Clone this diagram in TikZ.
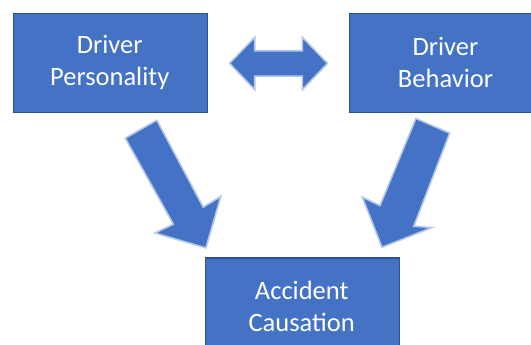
\documentclass[tikz,border=0pt]{standalone}
\usepackage{fontspec}
\setmainfont{Carlito}
\definecolor{boxfill}{HTML}{4472C4}
\definecolor{boxline}{HTML}{2F528F}
\definecolor{arrline}{HTML}{B4C7E7}
\begin{document}
\begin{tikzpicture}[x=1pt,y=-1pt,
  box/.style={draw=boxline,fill=boxfill,line width=1.3pt,minimum width=193.7pt,minimum height=99pt,inner sep=0pt,anchor=north west},
  lbl/.style={text=white,align=center,font=\fontsize{26.5}{32.5}\selectfont,inner sep=0pt},
  blockarrow/.style={fill=boxfill,draw=arrline,line width=1.6pt,line join=miter}]
\useasboundingbox (0,0) rectangle (531,345);
\node[box] (pers) at (12.9,12.9) {};
\node[box] (beh) at (348.8,12.9) {};
\node[box,minimum height=100pt] (acc) at (204.9,257.4) {};
\node[lbl] (perst) at (109.7,62.5) {Driver\\Personality};
\node[lbl] (beht) at (445.5,62.5) {Driver\\Behavior};
\node[lbl] (acct) at (301.7,306.5) {Accident\\Causation};
% double arrow
\draw[blockarrow] (229.6,63.3) -- (254.7,37.3) -- (254.7,50.8) -- (302.4,50.8) -- (302.4,37.3)
  -- (327.5,63.3) -- (302.4,89.7) -- (302.4,76.2) -- (254.7,76.2) -- (254.7,89.7) -- cycle;
% left arrow
\draw[blockarrow] (125.3,138.2) -- (156.8,120.2) -- (203.2,207.2) -- (220.8,196.4)
  -- (205.9,247.9) -- (155.1,233.0) -- (173.4,224.2) -- cycle;
% right arrow
\draw[blockarrow] (415.9,118.5) -- (449.7,133.1) -- (413.8,226.2) -- (431.8,227.6)
  -- (382.0,247.2) -- (362.3,197.1) -- (380.0,205.6) -- cycle;
\end{tikzpicture}
\end{document}
